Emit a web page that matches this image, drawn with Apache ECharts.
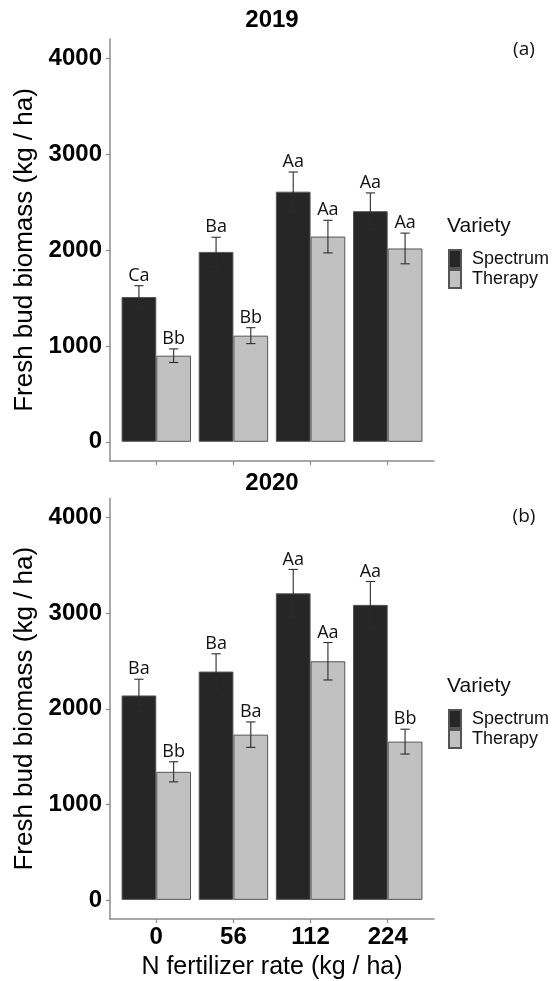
<!DOCTYPE html>
<html><head><meta charset="utf-8">
<script src="https://cdn.jsdelivr.net/npm/echarts@6/dist/echarts.min.js"></script>
<style>html,body{margin:0;padding:0;background:#fff}#c{width:553px;height:981px}</style>
</head><body><div id="c"></div>
<script>
// ---- data ----
const categories = ['0', '56', '112', '224'];
const seriesNames = ['Spectrum', 'Therapy'];
const yTicks = [0, 1000, 2000, 3000, 4000];
const panelTitles = ['2019', '2020'];
const panelTags = ['(a)', '(b)'];

const spectrum2019 = [1510, 1980, 2608, 2405];
const spectrumSE2019 = [118, 153, 205, 190];
const spectrumLetters2019 = ['Ca', 'Ba', 'Aa', 'Aa'];
const therapy2019 = [898, 1107, 2140, 2016];
const therapySE2019 = [71, 83, 170, 160];
const therapyLetters2019 = ['Bb', 'Bb', 'Aa', 'Aa'];

const spectrum2020 = [2139, 2389, 3208, 3087];
const spectrumSE2020 = [170, 186, 250, 245];
const spectrumLetters2020 = ['Ba', 'Ba', 'Aa', 'Aa'];
const therapy2020 = [1340, 1729, 2497, 1656];
const therapySE2020 = [105, 133, 196, 130];
const therapyLetters2020 = ['Bb', 'Ba', 'Aa', 'Bb'];

// ---- styling ----
const AR = '"Liberation Sans", Arial, sans-serif';
const HUM = '"Open Sans", "Noto Sans", sans-serif';
const axisGray = '#8c8c8c';
const colors = ['#262626', '#c1c1c1'];
const panels = [
  {top: 39, means: [spectrum2019, therapy2019], ses: [spectrumSE2019, therapySE2019], letters: [spectrumLetters2019, therapyLetters2019], showX: false},
  {top: 498.5, means: [spectrum2020, therapy2020], ses: [spectrumSE2020, therapySE2020], letters: [spectrumLetters2020, therapyLetters2020], showX: true}
];
const offsets = [-0.225, 0.225];

function errRender(letters, off) {
  return function (params, api) {
    const x = api.value(0) + off, m = api.value(1), se = api.value(2);
    const top = api.coord([x, m + se]);
    const bot = api.coord([x, m - se]);
    const hw = api.size([1, 0])[0] * 0.06;
    const ls = {stroke: '#2b2b2b', lineWidth: 1.1};
    return {
      type: 'group',
      children: [
        {type: 'line', shape: {x1: top[0], y1: top[1], x2: bot[0], y2: bot[1]}, style: ls},
        {type: 'line', shape: {x1: top[0] - hw, y1: top[1], x2: top[0] + hw, y2: top[1]}, style: ls},
        {type: 'line', shape: {x1: bot[0] - hw, y1: bot[1], x2: bot[0] + hw, y2: bot[1]}, style: ls},
        {type: 'text', x: top[0], y: top[1] - 1, style: {text: letters[params.dataIndex], fontFamily: HUM, fontSize: 18, fill: '#111', align: 'center', verticalAlign: 'bottom'}}
      ]
    };
  };
}

const grid = [], xAxis = [], yAxis = [], series = [], title = [], legend = [];
panels.forEach((p, k) => {
  grid.push({left: 110, right: 119, top: p.top, height: 422});
  xAxis.push({
    type: 'value', gridIndex: k, min: 0.4, max: 4.6,
    splitLine: {show: false},
    axisLine: {onZero: false, lineStyle: {color: axisGray, width: 1.5}},
    axisTick: {customValues: [1, 2, 3, 4], length: 4, lineStyle: {color: axisGray, width: 1.2}},
    axisLabel: {show: p.showX, customValues: [1, 2, 3, 4], formatter: v => categories[Math.round(v) - 1],
      fontFamily: AR, fontSize: 24, fontWeight: 'bold', color: '#000', margin: 6},
    name: p.showX ? 'N fertilizer rate (kg / ha)' : '', nameLocation: 'middle', nameGap: 36,
    nameTextStyle: {fontFamily: AR, fontSize: 25, color: '#000'}
  });
  yAxis.push({
    type: 'value', gridIndex: k, min: -200, max: 4200,
    splitLine: {show: false},
    axisLine: {show: true, onZero: false, lineStyle: {color: axisGray, width: 1.5}},
    axisTick: {show: true, customValues: yTicks, length: 4, lineStyle: {color: axisGray, width: 1.2}},
    axisLabel: {customValues: yTicks, formatter: v => String(v), fontFamily: AR, fontSize: 24, fontWeight: 'bold', color: '#000', margin: 8},
    name: 'Fresh bud biomass (kg / ha)', nameLocation: 'middle', nameRotate: 90, nameGap: 60,
    nameTextStyle: {fontFamily: AR, fontSize: 26, color: '#000'}
  });
  seriesNames.forEach((nm, s) => {
    series.push({
      type: 'bar', name: nm, xAxisIndex: k, yAxisIndex: k,
      barGap: '0%', barCategoryGap: '10%',
      itemStyle: {color: colors[s], borderColor: '#555', borderWidth: 1},
      emphasis: {disabled: true},
      data: p.means[s].map((v, i) => [i + 1, v])
    });
  });
  seriesNames.forEach((nm, s) => {
    series.push({
      type: 'custom', name: nm + ' SE', xAxisIndex: k, yAxisIndex: k, z: 5, clip: false,
      renderItem: errRender(p.letters[s], offsets[s]),
      data: p.means[s].map((v, i) => [i + 1, v, p.ses[s][i]])
    });
  });
  const dy = k === 0 ? 0 : 460;
  title.push({text: panelTitles[k], left: 272, top: 8 + (k ? 463 : 0), textAlign: 'center', padding: 0,
    textStyle: {fontFamily: AR, fontSize: 24, fontWeight: 'bold', color: '#000'}});
  title.push({text: panelTags[k], left: 524, top: 40 + (k ? 467 : 0), textAlign: 'center', padding: 0,
    textStyle: {fontFamily: HUM, fontSize: 19, fontWeight: 'normal', color: '#111'}});
  title.push({text: 'Variety', left: 447, top: 216 + dy, padding: 0,
    textStyle: {fontFamily: AR, fontSize: 21, fontWeight: 'normal', color: '#111'}});
  legend.push({
    orient: 'vertical', left: 448, top: 249 + dy, padding: 0, itemGap: 0,
    itemWidth: 12, itemHeight: 18, icon: 'rect', selectedMode: false,
    data: seriesNames,
    textStyle: {fontFamily: AR, fontSize: 18, lineHeight: 18, color: '#111', padding: [0, 0, 0, 6]}
  });
});

const chart = echarts.init(document.getElementById('c'), null, {renderer: 'canvas'});
chart.setOption({
  animation: false,
  backgroundColor: '#fff',
  title, legend, grid, xAxis, yAxis, series
});
</script>
</body></html>
